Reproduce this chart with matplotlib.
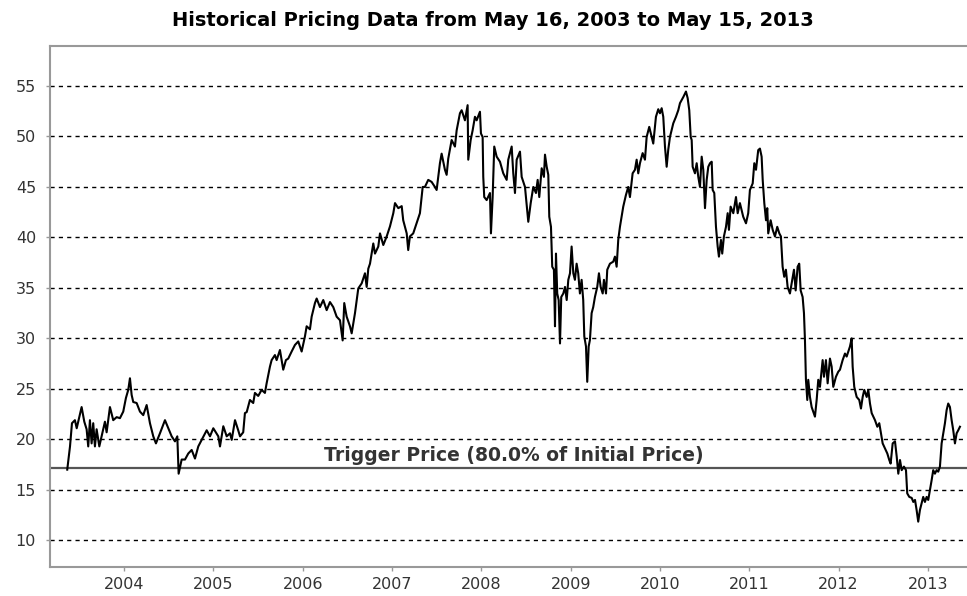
import matplotlib
matplotlib.use("Agg")
import matplotlib.pyplot as plt

# decimal year, closing price
years = [
    2003.365, 2003.396, 2003.418, 2003.451, 2003.471, 2003.526, 2003.556, 2003.582, 2003.600, 2003.619,
    2003.638, 2003.656, 2003.675, 2003.694, 2003.724, 2003.750, 2003.787, 2003.806, 2003.843, 2003.880,
    2003.918, 2003.955, 2003.992, 2004.022, 2004.048, 2004.067, 2004.086, 2004.104, 2004.142, 2004.179,
    2004.216, 2004.254, 2004.291, 2004.328, 2004.358, 2004.403, 2004.459, 2004.496, 2004.534, 2004.571,
    2004.597, 2004.612, 2004.646, 2004.683, 2004.720, 2004.758, 2004.795, 2004.832, 2004.870, 2004.926,
    2004.963, 2005.000, 2005.056, 2005.075, 2005.112, 2005.150, 2005.187, 2005.206, 2005.243, 2005.279,
    2005.299, 2005.335, 2005.354, 2005.374, 2005.410, 2005.447, 2005.466, 2005.503, 2005.541, 2005.578,
    2005.597, 2005.634, 2005.653, 2005.690, 2005.709, 2005.746, 2005.783, 2005.813, 2005.839, 2005.877,
    2005.914, 2005.951, 2005.989, 2006.026, 2006.045, 2006.082, 2006.101, 2006.138, 2006.157, 2006.194,
    2006.231, 2006.269, 2006.306, 2006.343, 2006.381, 2006.418, 2006.448, 2006.466, 2006.493, 2006.530,
    2006.549, 2006.586, 2006.623, 2006.661, 2006.698, 2006.717, 2006.735, 2006.754, 2006.791, 2006.810,
    2006.847, 2006.866, 2006.903, 2006.941, 2006.978, 2007.015, 2007.034, 2007.071, 2007.109, 2007.126,
    2007.165, 2007.182, 2007.201, 2007.238, 2007.276, 2007.313, 2007.344, 2007.369, 2007.406, 2007.444,
    2007.481, 2007.500, 2007.537, 2007.556, 2007.593, 2007.612, 2007.630, 2007.668, 2007.705, 2007.724,
    2007.761, 2007.780, 2007.817, 2007.847, 2007.854, 2007.881, 2007.903, 2007.929, 2007.948, 2007.985,
    2007.996, 2008.015, 2008.022, 2008.033, 2008.060, 2008.097, 2008.108, 2008.127, 2008.145, 2008.172,
    2008.209, 2008.246, 2008.284, 2008.302, 2008.340, 2008.358, 2008.377, 2008.396, 2008.433, 2008.452,
    2008.489, 2008.526, 2008.553, 2008.582, 2008.612, 2008.631, 2008.649, 2008.676, 2008.701, 2008.713,
    2008.732, 2008.750, 2008.761, 2008.780, 2008.794, 2008.813, 2008.825, 2008.836, 2008.850, 2008.866,
    2008.881, 2008.895, 2008.918, 2008.937, 2008.956, 2008.974, 2008.993, 2009.011, 2009.030, 2009.048,
    2009.067, 2009.085, 2009.104, 2009.123, 2009.141, 2009.153, 2009.172, 2009.186, 2009.202, 2009.216,
    2009.235, 2009.253, 2009.272, 2009.298, 2009.317, 2009.336, 2009.359, 2009.373, 2009.396, 2009.410,
    2009.440, 2009.477, 2009.496, 2009.515, 2009.533, 2009.552, 2009.571, 2009.589, 2009.619, 2009.645,
    2009.664, 2009.694, 2009.720, 2009.739, 2009.757, 2009.776, 2009.806, 2009.832, 2009.851, 2009.880,
    2009.907, 2009.925, 2009.955, 2009.981, 2010.000, 2010.019, 2010.037, 2010.056, 2010.075, 2010.093,
    2010.112, 2010.149, 2010.179, 2010.205, 2010.224, 2010.261, 2010.291, 2010.310, 2010.328, 2010.344,
    2010.355, 2010.366, 2010.392, 2010.411, 2010.429, 2010.448, 2010.467, 2010.485, 2010.504, 2010.523,
    2010.541, 2010.560, 2010.579, 2010.590, 2010.608, 2010.627, 2010.646, 2010.660, 2010.683, 2010.697,
    2010.716, 2010.739, 2010.758, 2010.772, 2010.791, 2010.821, 2010.851, 2010.870, 2010.895, 2010.914,
    2010.932, 2010.963, 2010.988, 2011.007, 2011.038, 2011.056, 2011.075, 2011.100, 2011.119, 2011.138,
    2011.150, 2011.168, 2011.187, 2011.201, 2011.212, 2011.239, 2011.262, 2011.287, 2011.313, 2011.336,
    2011.354, 2011.373, 2011.391, 2011.410, 2011.429, 2011.455, 2011.481, 2011.500, 2011.519, 2011.541,
    2011.559, 2011.575, 2011.597, 2011.612, 2011.623, 2011.634, 2011.649, 2011.660, 2011.679, 2011.698,
    2011.735, 2011.754, 2011.772, 2011.791, 2011.821, 2011.836, 2011.858, 2011.877, 2011.903, 2011.922,
    2011.940, 2011.970, 2011.996, 2012.015, 2012.045, 2012.071, 2012.090, 2012.127, 2012.146, 2012.157,
    2012.175, 2012.202, 2012.231, 2012.250, 2012.269, 2012.287, 2012.314, 2012.332, 2012.351, 2012.370,
    2012.388, 2012.407, 2012.433, 2012.455, 2012.474, 2012.493, 2012.519, 2012.545, 2012.567, 2012.582,
    2012.605, 2012.631, 2012.650, 2012.668, 2012.687, 2012.706, 2012.731, 2012.754, 2012.768, 2012.791,
    2012.818, 2012.836, 2012.855, 2012.873, 2012.891, 2012.910, 2012.929, 2012.947, 2012.966, 2012.985,
    2013.003, 2013.022, 2013.041, 2013.059, 2013.078, 2013.097, 2013.115, 2013.134, 2013.153, 2013.171,
    2013.190, 2013.209, 2013.227, 2013.246, 2013.265, 2013.283, 2013.302, 2013.321, 2013.339, 2013.358,
]
prices = [
    17.0, 19.3, 21.6, 21.9, 21.1, 23.2, 21.75, 21.0, 19.3, 21.9,
    19.6, 21.6, 19.3, 21.0, 19.3, 20.3, 21.75, 20.7, 23.2, 21.9,
    22.2, 22.1, 22.75, 24.1, 24.9, 26.05, 24.4, 23.7, 23.6, 22.75,
    22.4, 23.4, 21.6, 20.3, 19.6, 20.6, 21.9, 21.1, 20.3, 19.8,
    20.3, 16.6, 18.0, 18.0, 18.6, 18.95, 18.1, 19.3, 19.95, 20.9,
    20.3, 21.1, 20.3, 19.3, 21.3, 20.3, 20.6, 19.95, 21.9, 20.9,
    20.3, 20.7, 22.6, 22.7, 23.9, 23.6, 24.6, 24.3, 24.9, 24.6,
    25.55, 27.2, 27.85, 28.35, 27.85, 28.85, 26.9, 27.85, 28.0, 28.7,
    29.35, 29.7, 28.7, 30.2, 31.2, 30.9, 32.15, 33.5, 33.95, 33.1,
    33.8, 32.8, 33.6, 33.1, 32.15, 31.8, 29.8, 33.5, 32.15, 31.2,
    30.5, 32.5, 34.95, 35.45, 36.45, 35.1, 36.9, 37.4, 39.4, 38.4,
    39.1, 40.4, 39.25, 40.1, 41.1, 42.4, 43.4, 42.9, 43.1, 41.7,
    40.4, 38.75, 40.1, 40.4, 41.4, 42.4, 45.0, 45.0, 45.7, 45.5,
    45.0, 44.7, 47.35, 48.3, 46.7, 46.2, 47.8, 49.65, 49.0, 50.6,
    52.3, 52.6, 51.6, 53.1, 47.7, 49.65, 50.6, 51.95, 51.6, 52.45,
    50.3, 49.95, 46.0, 44.0, 43.7, 44.4, 40.4, 44.0, 49.0, 48.0,
    47.5, 46.35, 45.7, 47.7, 49.0, 46.35, 44.4, 47.7, 48.5, 46.0,
    45.0, 41.55, 43.4, 45.0, 44.4, 45.7, 44.0, 46.85, 46.0, 48.2,
    47.0, 46.2, 42.05, 41.05, 37.1, 36.8, 31.2, 38.4, 34.45, 33.8,
    29.5, 34.1, 34.45, 35.1, 33.8, 35.8, 36.45, 39.1, 36.45, 35.8,
    37.4, 36.45, 34.45, 35.8, 33.8, 30.2, 29.2, 25.7, 29.2, 29.85,
    32.5, 33.1, 34.1, 35.1, 36.45, 35.1, 34.45, 35.8, 34.45, 36.8,
    37.4, 37.6, 38.1, 37.1, 39.75, 41.05, 42.05, 43.05, 44.2, 45.0,
    44.0, 46.35, 46.7, 47.7, 46.35, 47.35, 48.35, 47.7, 49.95, 50.95,
    49.95, 49.3, 51.95, 52.7, 52.3, 52.8, 51.95, 49.0, 47.0, 48.7,
    49.95, 51.3, 51.95, 52.6, 53.3, 53.9, 54.45, 53.8, 52.6, 49.95,
    49.65, 47.0, 46.35, 47.35, 46.0, 45.0, 48.0, 46.7, 42.9, 45.7,
    47.0, 47.35, 47.5, 44.7, 44.4, 41.05, 39.1, 38.1, 39.75, 38.4,
    40.1, 41.05, 42.4, 40.75, 43.05, 42.4, 44.0, 42.4, 43.4, 42.7,
    42.05, 41.4, 42.4, 44.7, 45.35, 47.35, 46.7, 48.65, 48.8, 48.0,
    45.7, 43.4, 41.7, 42.9, 40.4, 41.7, 40.75, 40.1, 41.05, 40.4,
    40.1, 37.1, 36.1, 36.8, 35.1, 34.45, 35.8, 36.8, 34.75, 37.1,
    37.4, 34.75, 34.1, 32.5, 29.85, 25.9, 23.9, 25.9, 24.2, 23.2,
    22.25, 23.9, 25.9, 25.2, 27.85, 26.2, 27.85, 25.55, 28.0, 27.2,
    25.2, 26.2, 26.7, 26.9, 27.85, 28.5, 28.2, 29.2, 30.0, 27.2,
    25.2, 24.2, 23.9, 23.05, 24.2, 24.9, 24.2, 24.9, 23.55, 22.6,
    22.25, 21.9, 21.25, 21.6, 20.6, 19.6, 19.1, 18.6, 17.95, 17.6,
    19.6, 19.8, 18.3, 16.6, 17.95, 16.95, 17.3, 16.95, 14.65, 14.3,
    14.2, 13.8, 14.0, 13.0, 11.85, 13.0, 13.65, 14.3, 13.8, 14.3,
    14.0, 14.95, 15.95, 16.95, 16.6, 16.95, 16.8, 17.3, 19.6, 20.6,
    21.6, 22.9, 23.55, 23.2, 21.9, 20.9, 19.6, 20.6, 20.9, 21.25,
]

trigger_price = 17.15
trigger_label = "Trigger Price (80.0% of Initial Price)"
title = "Historical Pricing Data from May 16, 2003 to May 15, 2013"
year_ticks = [2004, 2005, 2006, 2007, 2008, 2009, 2010, 2011, 2012, 2013]
price_ticks = [10, 15, 20, 25, 30, 35, 40, 45, 50, 55]

fig = plt.figure(figsize=(9.67, 5.96), dpi=100)
ax = fig.add_axes([0.0517, 0.0487, 0.9483, 0.8741])

ax.plot(years, prices, color="black", linewidth=1.5, zorder=3)
ax.axhline(trigger_price, color="#555555", linewidth=1.6, zorder=2)
ax.text(0.506, trigger_price + 0.35, trigger_label, transform=ax.get_yaxis_transform(),
        ha="center", va="bottom", fontsize=13.5, fontweight="bold", color="#333333")

ax.set_xlim(2003.172, 2013.437)
ax.set_ylim(7.36, 58.96)
ax.set_xticks(year_ticks)
ax.set_xticklabels([str(y) for y in year_ticks])
ax.set_yticks(price_ticks)

ax.yaxis.grid(True, color="black", linestyle=(0, (3, 3)), linewidth=1.0)
ax.set_axisbelow(True)

for side in ["left", "top", "bottom"]:
    ax.spines[side].set_color("#999999")
    ax.spines[side].set_linewidth(1.5)
ax.spines["right"].set_visible(False)

ax.tick_params(axis="both", colors="#999999", labelcolor="#333333", labelsize=11.5,
               length=3, width=1)
ax.tick_params(axis="y", pad=7)
ax.tick_params(axis="x", pad=4)

fig.text(0.51, 0.966, title, ha="center", va="center", fontsize=14, fontweight="bold")

fig.savefig("out.png", dpi=100)
